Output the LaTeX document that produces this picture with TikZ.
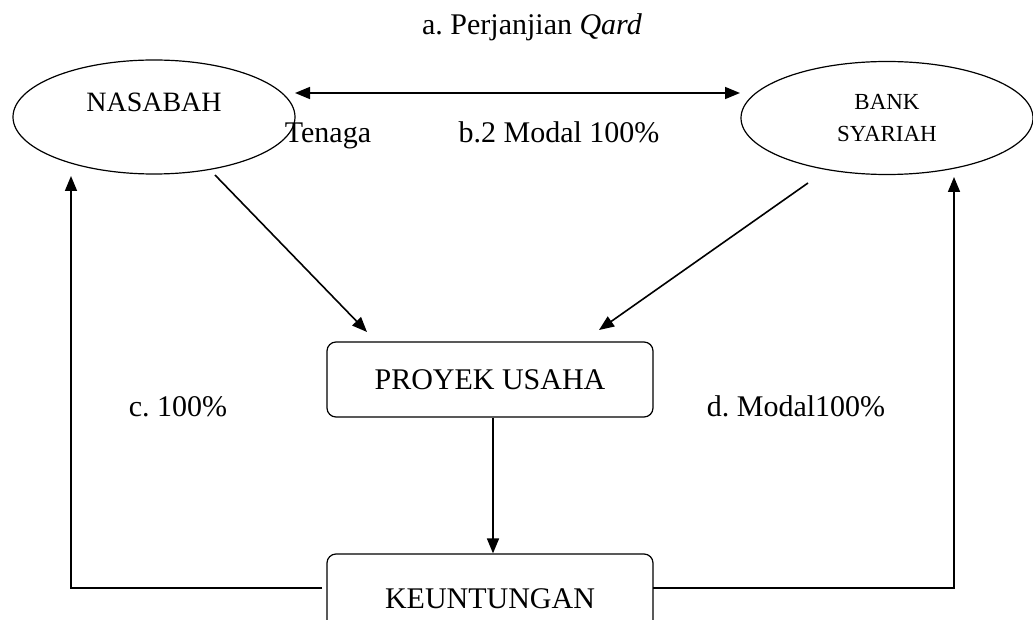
\documentclass[tikz,border=0pt]{standalone}
\usepackage{fontspec}
\setmainfont{Liberation Serif}
\usetikzlibrary{shapes.geometric,arrows.meta}
\frenchspacing
\begin{document}
\begin{tikzpicture}[x=1pt,y=-1pt,
  line width=1.6pt,
  conn/.style={-{Triangle[length=15pt,width=12pt]}},
  dconn/.style={{Triangle[length=15pt,width=12pt]}-{Triangle[length=15pt,width=12pt]}},
  oval/.style={draw,ellipse,inner sep=0pt,line width=1.2pt},
  box/.style={draw,rounded corners=9pt,inner sep=0pt,line width=1.2pt},
  lbl/.style={font=\fontsize{30}{34}\selectfont,inner sep=0pt,anchor=base}]
\clip (0,0) rectangle (1033,620);
\useasboundingbox (0,0) rectangle (1033,620);
\node[oval,minimum width=282pt,minimum height=114pt,font=\fontsize{28}{32}\selectfont,text height=20pt,text depth=30pt] (N) at (154,117) {NASABAH};
\node[oval,minimum width=292pt,minimum height=113pt,font=\fontsize{23}{32}\selectfont,align=center] (B) at (887,118) {BANK\\SYARIAH};
\node[box,minimum width=326pt,minimum height=75pt,font=\fontsize{30}{34}\selectfont] (P) at (490,379.5) {PROYEK USAHA};
\node[box,minimum width=326pt,minimum height=90pt,font=\fontsize{30}{34}\selectfont] (K) at (490,599) {KEUNTUNGAN};
\node[lbl] (ta) at (532,35) {a. Perjanjian \textit{Qard}};
\node[lbl] (tt) at (328,143) {Tenaga};
\node[lbl] (tb) at (559,143) {b.2 Modal 100\%};
\node[lbl] (tc) at (178,416) {c. 100\%};
\node[lbl] (td) at (796,416) {d. Modal100\%};
\coordinate (n1) at (295,93);
\coordinate (b1) at (740,93);
\coordinate (n2) at (215,175);
\coordinate (p1) at (367,332);
\coordinate (b2) at (808,183);
\coordinate (p2) at (599,330);
\coordinate (n3) at (71,176);
\coordinate (b3) at (954,177);
\coordinate (kl) at (322,588);
\coordinate (kr) at (653,588);
\draw[dconn] (n1) -- (b1);
\draw[conn] (n2) -- (p1);
\draw[conn] (b2) -- (p2);
\draw[conn] (P.south -| 493,0) -- (K.north -| 493,0);
\draw[conn] (kl) -| (n3);
\draw[conn] (kr) -| (b3);
\end{tikzpicture}
\end{document}
